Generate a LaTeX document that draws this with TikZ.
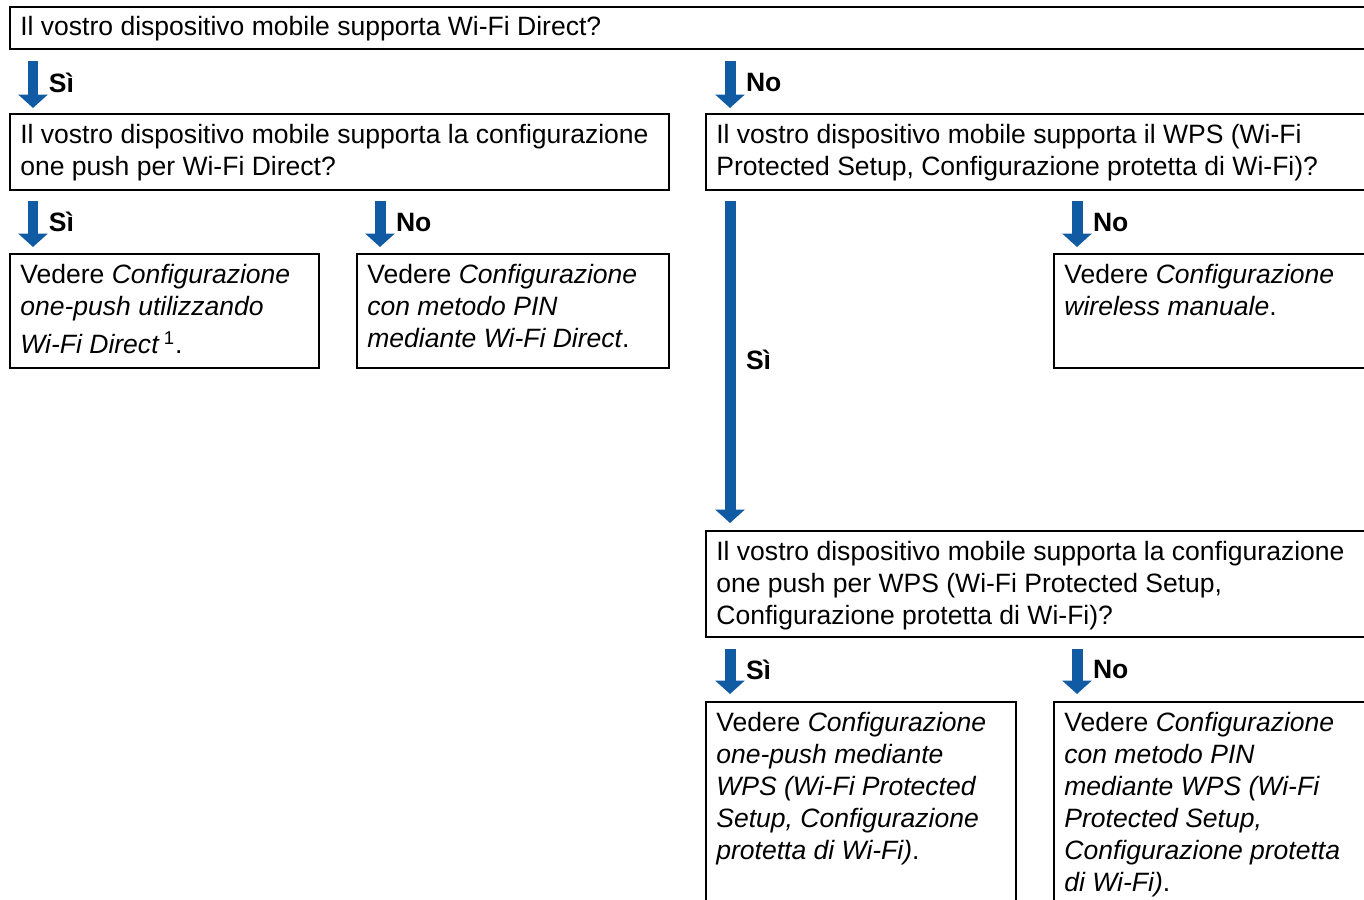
\documentclass[tikz,border=0pt]{standalone}
\usepackage{fontspec}
\setmainfont{Liberation Sans}
\usetikzlibrary{arrows.meta}

\definecolor{flowblue}{RGB}{17,90,164}

\begin{document}
\begin{tikzpicture}[x=0.02cm,y=-0.02cm,
    frame/.style={draw,line width=1.3pt,anchor=north west,inner sep=0pt},
    wd/.style={minimum width=#1*0.02cm},
    ht/.style={minimum height=#1*0.02cm},
    txt/.style={anchor=north west,inner sep=0pt,align=left,
        font=\fontsize{15.1pt}{18.2pt}\selectfont},
    flow/.style={draw=flowblue,line width=0.22cm,
        -{Triangle[width=0.58cm,length=0.27cm]}},
    answer/.style={anchor=west,inner sep=0pt,xshift=0.21cm,yshift=0.04cm,
        font=\fontsize{15.1pt}{18.2pt}\selectfont\bfseries}]
    \useasboundingbox (0,0) rectangle (1364,899);
    \clip (0,0) rectangle (1364,899);
    % questions
    \node[frame,wd=1400,ht=42] (q0) at (9,6) {};
    \node[txt] (q0t) at ([shift={(11,10)}]q0.north west)
        {Il vostro dispositivo mobile supporta Wi-Fi Direct?};
    \node[frame,wd=659,ht=76] (q1) at (9,113) {};
    \node[txt] (q1t) at ([shift={(11,11)}]q1.north west)
        {Il vostro dispositivo mobile supporta la configurazione\\one push per Wi-Fi Direct?};
    \node[frame,wd=700,ht=76] (q2) at (705,113) {};
    \node[txt] (q2t) at ([shift={(11,11)}]q2.north west)
        {Il vostro dispositivo mobile supporta il WPS (Wi-Fi\\Protected Setup, Configurazione protetta di Wi-Fi)?};
    \node[frame,wd=700,ht=106] (q3) at (705,530) {};
    \node[txt] (q3t) at ([shift={(11,11)}]q3.north west)
        {Il vostro dispositivo mobile supporta la configurazione\\one push per WPS (Wi-Fi Protected Setup,\\Configurazione protetta di Wi-Fi)?};
    % results
    \node[frame,wd=309,ht=114] (r1) at (9,253) {};
    \node[txt] (r1t) at ([shift={(11,11)}]r1.north west)
        {Vedere \textit{Configurazione}\\\textit{one-push utilizzando}\\[3.4pt]\textit{Wi-Fi Direct}\,\textsuperscript{1}.};
    \node[frame,wd=312,ht=114] (r2) at (356,253) {};
    \node[txt] (r2t) at ([shift={(11,11)}]r2.north west)
        {Vedere \textit{Configurazione}\\\textit{con metodo PIN}\\\textit{mediante Wi-Fi Direct}.};
    \node[frame,wd=350,ht=114] (r3) at (1053,253) {};
    \node[txt] (r3t) at ([shift={(11,11)}]r3.north west)
        {Vedere \textit{Configurazione}\\\textit{wireless manuale}.};
    \node[frame,wd=310,ht=220] (r4) at (705,701) {};
    \node[txt] (r4t) at ([shift={(11,11)}]r4.north west)
        {Vedere \textit{Configurazione}\\\textit{one-push mediante}\\\textit{WPS (Wi-Fi Protected}\\\textit{Setup, Configurazione}\\\textit{protetta di Wi-Fi)}.};
    \node[frame,wd=350,ht=220] (r5) at (1053,701) {};
    \node[txt] (r5t) at ([shift={(11,11)}]r5.north west)
        {Vedere \textit{Configurazione}\\\textit{con metodo PIN}\\\textit{mediante WPS (Wi-Fi}\\\textit{Protected Setup,}\\\textit{Configurazione protetta}\\\textit{di Wi-Fi)}.};
    % arrows
    \draw[flow] ([shift={(24,11)}]q1.north west |- q0.south) -- ([shift={(24,-5)}]q1.north west)
        node[answer,midway] {Sì};
    \draw[flow] ([shift={(25,11)}]q2.north west |- q0.south) -- ([shift={(25,-5)}]q2.north west)
        node[answer,midway] {No};
    \draw[flow] ([shift={(24,10)}]r1.north west |- q1.south) -- ([shift={(24,-6)}]r1.north west)
        node[answer,midway] {Sì};
    \draw[flow] ([shift={(24,10)}]r2.north west |- q1.south) -- ([shift={(24,-6)}]r2.north west)
        node[answer,midway] {No};
    \draw[flow] ([shift={(25,10)}]q3.north west |- q2.south) -- ([shift={(25,-7)}]q3.north west)
        node[answer,midway] {Sì};
    \draw[flow] ([shift={(24,10)}]r3.north west |- q2.south) -- ([shift={(24,-6)}]r3.north west)
        node[answer,midway] {No};
    \draw[flow] ([shift={(25,11)}]r4.north west |- q3.south) -- ([shift={(25,-7)}]r4.north west)
        node[answer,midway] {Sì};
    \draw[flow] ([shift={(24,11)}]r5.north west |- q3.south) -- ([shift={(24,-7)}]r5.north west)
        node[answer,midway] {No};
\end{tikzpicture}
\end{document}
